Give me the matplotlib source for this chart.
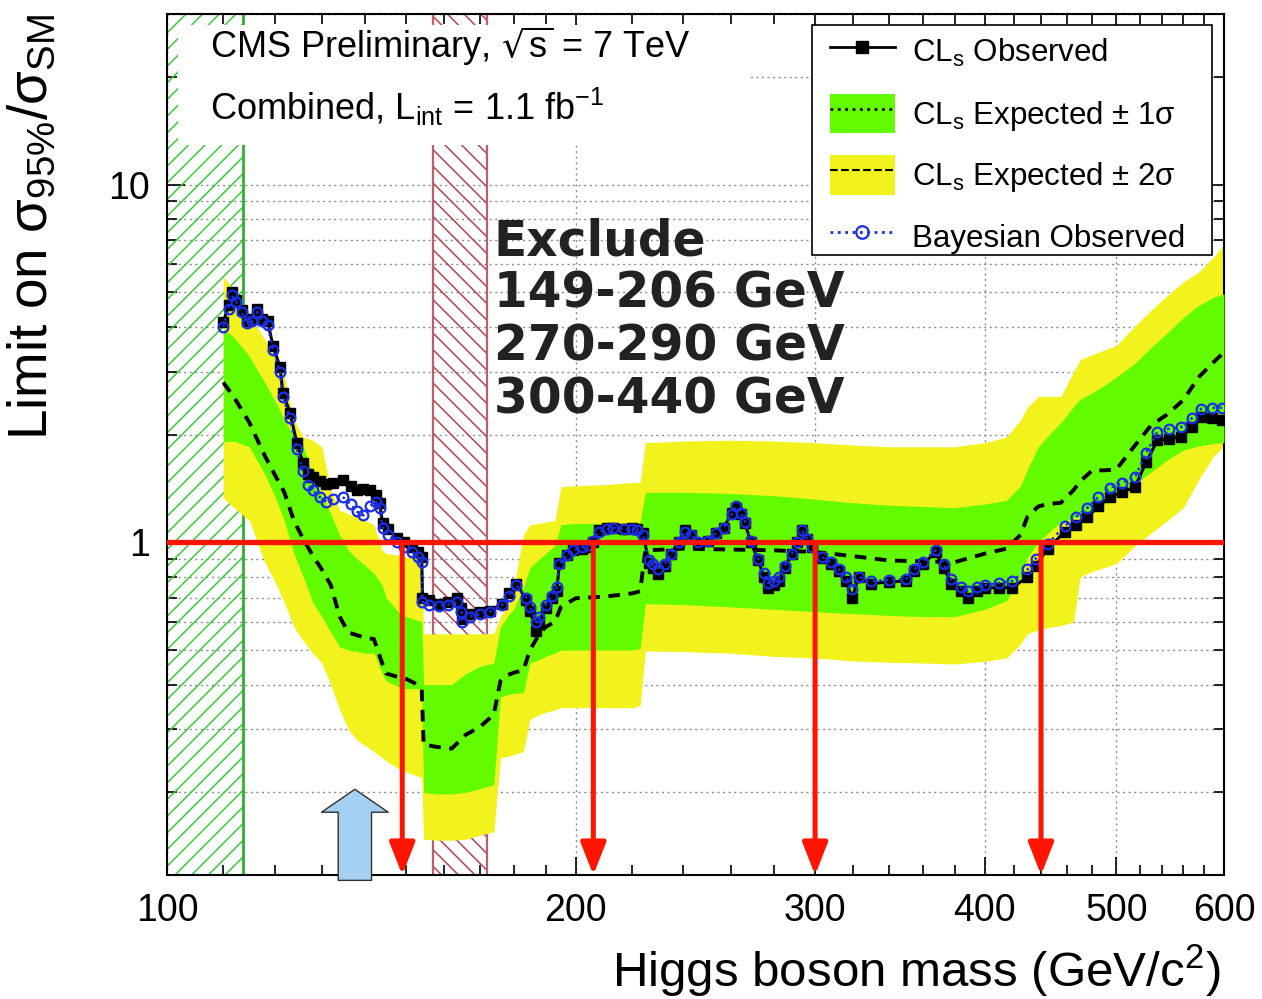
import matplotlib
matplotlib.use("Agg")
import matplotlib.pyplot as plt
from matplotlib.patches import Patch, Rectangle
from matplotlib.lines import Line2D
from matplotlib.ticker import FixedLocator, FixedFormatter, NullFormatter

plt.rcParams['font.family'] = ['Liberation Sans', 'DejaVu Sans']
plt.rcParams['hatch.linewidth'] = 1.1

# expected limit and +-1/2 sigma bands
mass_band = [110, 112, 115, 118, 120, 122, 124, 126, 128, 130,
             132, 134, 136, 138, 140, 142, 144, 145, 148, 150,
             152, 154, 154.5, 158, 162, 166, 170, 174, 176, 178,
             180, 183, 185, 188, 190, 193, 195, 200, 210, 220,
             223, 225, 240, 260, 280, 300, 320, 340, 360, 380,
             400, 415, 425, 430, 438, 445, 455, 465, 470, 480,
             490, 500, 515, 530, 545, 560, 575, 590, 600]
exp_limit = [2.80, 2.55, 2.16, 1.75, 1.55, 1.38, 1.15, 1.02, 0.92, 0.84,
             0.76, 0.62, 0.56, 0.55, 0.54, 0.537, 0.46, 0.43, 0.42, 0.415,
             0.405, 0.39, 0.272, 0.268, 0.265, 0.29, 0.305, 0.33, 0.41, 0.425,
             0.432, 0.44, 0.50, 0.555, 0.58, 0.60, 0.66, 0.698, 0.705, 0.72,
             0.73, 0.95, 0.96, 0.955, 0.95, 0.94, 0.915, 0.89, 0.885, 0.88,
             0.93, 0.96, 1.05, 1.18, 1.26, 1.28, 1.29, 1.40, 1.48, 1.59,
             1.59, 1.60, 1.85, 2.12, 2.28, 2.50, 2.90, 3.20, 3.40]
one_sig_hi = [3.94, 3.75, 3.31, 2.80, 2.50, 2.20, 1.98, 1.85, 1.55, 1.35,
              1.20, 1.05, 0.95, 0.90, 0.86, 0.82, 0.76, 0.70, 0.64, 0.62,
              0.61, 0.60, 0.40, 0.40, 0.40, 0.43, 0.45, 0.46, 0.58, 0.62,
              0.65, 0.75, 0.85, 0.90, 0.93, 0.98, 1.12, 1.13, 1.13, 1.13,
              1.14, 1.38, 1.38, 1.37, 1.35, 1.32, 1.29, 1.27, 1.26, 1.25,
              1.28, 1.31, 1.44, 1.60, 1.85, 1.98, 2.16, 2.40, 2.51, 2.62,
              2.75, 2.90, 3.15, 3.50, 3.85, 4.25, 4.60, 4.85, 4.95]
one_sig_lo = [1.91, 1.92, 1.85, 1.55, 1.35, 1.15, 0.93, 0.80, 0.68, 0.62,
              0.56, 0.51, 0.50, 0.495, 0.49, 0.49, 0.43, 0.41, 0.395, 0.39,
              0.39, 0.39, 0.20, 0.198, 0.198, 0.20, 0.205, 0.21, 0.37, 0.375,
              0.378, 0.38, 0.46, 0.47, 0.48, 0.49, 0.50, 0.50, 0.50, 0.50,
              0.505, 0.674, 0.67, 0.66, 0.65, 0.64, 0.632, 0.625, 0.62, 0.62,
              0.65, 0.687, 0.80, 0.907, 1.00, 1.06, 1.14, 1.17, 1.18, 1.22,
              1.28, 1.34, 1.45, 1.57, 1.70, 1.81, 1.86, 1.89, 1.90]
two_sig_hi = [5.52, 5.10, 4.30, 3.70, 3.30, 2.90, 2.20, 1.97, 1.93, 1.85,
              1.40, 1.23, 1.20, 1.18, 1.15, 1.12, 0.95, 0.93, 0.92, 0.91,
              0.91, 0.90, 0.555, 0.555, 0.555, 0.555, 0.555, 0.556, 0.62, 0.66,
              0.75, 1.05, 1.12, 1.13, 1.14, 1.15, 1.43, 1.44, 1.45, 1.47,
              1.47, 1.90, 1.92, 1.93, 1.92, 1.90, 1.87, 1.85, 1.85, 1.85,
              1.90, 1.97, 2.20, 2.39, 2.56, 2.56, 2.56, 3.00, 3.24, 3.35,
              3.45, 3.55, 4.00, 4.45, 4.90, 5.35, 5.70, 6.30, 6.80]
two_sig_lo = [1.33, 1.25, 1.15, 0.88, 0.78, 0.68, 0.58, 0.53, 0.49, 0.46,
              0.40, 0.34, 0.30, 0.28, 0.27, 0.26, 0.25, 0.245, 0.233, 0.228,
              0.224, 0.22, 0.148, 0.147, 0.147, 0.148, 0.152, 0.155, 0.25, 0.252,
              0.255, 0.26, 0.32, 0.33, 0.335, 0.34, 0.345, 0.345, 0.345, 0.345,
              0.35, 0.497, 0.495, 0.49, 0.48, 0.475, 0.466, 0.462, 0.46, 0.457,
              0.465, 0.475, 0.52, 0.555, 0.57, 0.577, 0.585, 0.60, 0.80, 0.83,
              0.85, 0.873, 0.97, 1.06, 1.15, 1.25, 1.50, 1.75, 1.85]

# observed limits (CLs and Bayesian)
obs_mass = [110, 111, 111.6, 112.5, 113.5, 114.5, 115.5, 116.5, 117.5, 118.6,
            119.7, 121.1, 121.7, 123.2, 124.6, 125.9, 127, 128, 129.5, 131,
            132.5, 134.7, 136.5, 137.9, 139.5, 141, 142.5, 143.4, 144.1, 145.5,
            147.6, 149.5, 151.6, 153, 154, 154.2, 156, 158.7, 161, 163.4,
            164.7, 165, 167, 170, 172.8, 176.6, 178.5, 180.8, 183.9, 185,
            187, 188, 190, 192, 193.6, 194.5, 197, 199, 202, 204,
            206, 208, 211, 213, 217, 220, 222, 224, 226.5, 228,
            230, 232.5, 235, 238, 240.5, 243, 246, 250, 253.5, 257,
            260.5, 262.5, 264.5, 266.5, 269, 272.5, 275, 277, 280, 282,
            285, 288.5, 291, 293.5, 296, 298.5, 303.6, 308, 312.4, 316,
            319.5, 323, 330, 340, 350, 355, 360, 368, 373, 378,
            384, 389, 395, 400, 410, 419, 430, 436, 445, 458,
            467, 476, 485, 494.5, 505, 516, 526, 536, 547, 558,
            568, 577, 588, 598]
obs_limit = [4.12, 4.60, 5.00, 4.75, 4.45, 4.15, 4.20, 4.49, 4.20, 4.15,
             3.53, 3.10, 2.62, 2.30, 1.90, 1.67, 1.55, 1.52, 1.48, 1.46,
             1.47, 1.49, 1.44, 1.40, 1.41, 1.40, 1.36, 1.29, 1.13, 1.09,
             1.03, 1.00, 0.968, 0.94, 0.91, 0.70, 0.69, 0.674, 0.68, 0.70,
             0.657, 0.61, 0.632, 0.64, 0.644, 0.674, 0.72, 0.767, 0.69, 0.644,
             0.566, 0.60, 0.657, 0.70, 0.733, 0.873, 0.92, 0.95, 0.96, 0.97,
             1.00, 1.08, 1.10, 1.10, 1.09, 1.10, 1.09, 1.06, 0.873, 0.85,
             0.818, 0.86, 0.93, 1.00, 1.08, 1.05, 0.99, 1.01, 1.06, 1.10,
             1.21, 1.25, 1.20, 1.13, 1.00, 0.89, 0.80, 0.747, 0.76, 0.782,
             0.85, 0.93, 1.00, 1.08, 1.02, 0.97, 0.907, 0.87, 0.834, 0.78,
             0.70, 0.80, 0.767, 0.775, 0.78, 0.834, 0.87, 0.937, 0.85, 0.767,
             0.73, 0.70, 0.73, 0.747, 0.747, 0.747, 0.80, 0.86, 0.96, 1.07,
             1.12, 1.18, 1.26, 1.34, 1.38, 1.43, 1.68, 1.93, 1.95, 1.97,
             2.10, 2.24, 2.22, 2.20]
bayes_limit = [4.00, 4.50, 4.90, 4.70, 4.40, 4.10, 4.15, 4.40, 4.15, 4.05,
               3.45, 3.00, 2.55, 2.22, 1.82, 1.58, 1.45, 1.40, 1.34, 1.30,
               1.32, 1.34, 1.28, 1.22, 1.19, 1.26, 1.30, 1.25, 1.10, 1.05,
               1.00, 0.97, 0.94, 0.91, 0.88, 0.68, 0.67, 0.665, 0.67, 0.68,
               0.64, 0.60, 0.62, 0.63, 0.64, 0.67, 0.71, 0.76, 0.70, 0.66,
               0.60, 0.62, 0.67, 0.71, 0.75, 0.87, 0.92, 0.95, 0.97, 0.98,
               1.01, 1.07, 1.09, 1.10, 1.09, 1.09, 1.08, 1.05, 0.89, 0.87,
               0.84, 0.87, 0.93, 1.00, 1.07, 1.05, 1.00, 1.01, 1.06, 1.10,
               1.20, 1.26, 1.21, 1.14, 1.01, 0.90, 0.82, 0.77, 0.78, 0.80,
               0.86, 0.93, 1.00, 1.08, 1.02, 0.97, 0.91, 0.88, 0.84, 0.80,
               0.74, 0.80, 0.78, 0.785, 0.79, 0.84, 0.88, 0.95, 0.87, 0.79,
               0.75, 0.73, 0.75, 0.76, 0.77, 0.78, 0.84, 0.90, 0.99, 1.11,
               1.18, 1.25, 1.34, 1.42, 1.47, 1.52, 1.78, 2.04, 2.08, 2.10,
               2.22, 2.36, 2.38, 2.38]

lep_range = (100, 113.8)       # green hatched
tev_range = (157, 172)         # red hatched
excl_edges = [149, 206, 300, 440]
hint_mass = 137.5
excl_lines = ["Exclude", "149-206 GeV", "270-290 GeV", "300-440 GeV"]

x_major = [100, 200, 300, 400, 500, 600]
x_minor = [110, 120, 130, 140, 150, 160, 170, 180, 190,
           220, 240, 260, 280, 320, 340, 360, 380,
           420, 440, 460, 480, 520, 540, 560, 580]
y_major = [1, 10]
y_minor = [0.2, 0.3, 0.4, 0.5, 0.6, 0.7, 0.8, 0.9,
           2, 3, 4, 5, 6, 7, 8, 9, 20, 30]
ylo, yhi = 0.1175, 30

GREEN = '#62fb00'
YELLOW = '#f2f21c'
BLUE = '#1a2ee6'
RED = '#ff1400'

fig = plt.figure(figsize=(12.62, 9.99), dpi=100)
ax = fig.add_axes([167 / 1262, 124 / 999, 1057 / 1262, 861 / 999])
ax.set_xscale('log')
ax.set_yscale('log')
ax.set_xlim(100, 600)
ax.set_ylim(ylo, yhi)

grid_kw = dict(color='#8c8c8c', linestyle=(0, (1.5, 2.5)), linewidth=1.0)
ax.grid(True, axis='x', which='major', **grid_kw)
ax.grid(True, axis='y', which='both', **grid_kw)
ax.set_axisbelow(True)

# excluded regions from earlier experiments
ax.axvspan(*lep_range, facecolor='none', edgecolor='#3cc83c', hatch='//',
           linewidth=0, zorder=1)
ax.axvline(lep_range[1], color='#30b030', lw=2, zorder=1)
ax.axvspan(*tev_range, facecolor='none', edgecolor='#b04458', hatch='\\\\',
           linewidth=0, zorder=1)
for m in tev_range:
    ax.axvline(m, color='#b86070', lw=1.6, zorder=1)

# white pad behind the header text
ax.add_patch(Rectangle((0.0105, 0.848), 0.54, 0.139, transform=ax.transAxes,
                       facecolor='white', edgecolor='none', zorder=1.5))

ax.fill_between(mass_band, two_sig_lo, two_sig_hi, color=YELLOW, lw=0, zorder=2)
ax.fill_between(mass_band, one_sig_lo, one_sig_hi, color=GREEN, lw=0, zorder=3)
ax.plot(mass_band, exp_limit, color='black', lw=2.8,
        linestyle=(0, (3, 2.2)), zorder=4)
ax.plot(obs_mass, obs_limit, color='black', lw=2.2, marker='s', ms=7.5,
        zorder=5)
ax.plot(obs_mass, bayes_limit, color=BLUE, lw=1.8, linestyle=':',
        marker='o', ms=7, mfc='none', mec=BLUE, mew=1.6, zorder=6)

ax.axhline(1.0, color=RED, lw=3.8, zorder=7)
for m in excl_edges:
    ax.annotate('', xy=(m, ylo), xytext=(m, 1.0),
                arrowprops=dict(arrowstyle='-|>,head_length=1.4,head_width=0.55',
                                color=RED, lw=3.6, mutation_scale=14,
                                shrinkA=0, shrinkB=0), zorder=8)
ax.annotate('', xy=(hint_mass, 0.204), xytext=(hint_mass, 0.1135),
            arrowprops=dict(arrowstyle='simple,head_length=1.65,head_width=4.8,'
                                       'tail_width=2.4',
                            fc='#a6d0f2', ec='#303030', lw=1,
                            mutation_scale=10, shrinkA=0, shrinkB=0),
            annotation_clip=False, zorder=8)

# header text
ax.text(0.0407, 0.949, r'CMS Preliminary, $\mathregular{\sqrt{s}}$ = 7 TeV',
        transform=ax.transAxes, fontsize=26, va='baseline', zorder=9)
ax.text(0.0407, 0.877, r'Combined, L$\mathregular{_{int}}$ = 1.1 fb$\mathregular{^{-1}}$',
        transform=ax.transAxes, fontsize=26, va='baseline', zorder=9)
for i, line in enumerate(excl_lines):
    ax.text(0.309, 0.720 - 0.0612 * i, line, transform=ax.transAxes,
            fontsize=35, fontweight='bold', family='DejaVu Sans',
            color='#222222', va='baseline', zorder=9)

# axes styling
ax.xaxis.set_major_locator(FixedLocator(x_major))
ax.xaxis.set_major_formatter(FixedFormatter([str(v) for v in x_major]))
ax.xaxis.set_minor_locator(FixedLocator(x_minor))
ax.xaxis.set_minor_formatter(NullFormatter())
ax.yaxis.set_major_locator(FixedLocator(y_major))
ax.yaxis.set_major_formatter(FixedFormatter(['1', '10']))
ax.yaxis.set_minor_locator(FixedLocator(y_minor))
ax.yaxis.set_minor_formatter(NullFormatter())
ax.tick_params(which='both', direction='in', top=True, right=True, width=1.2)
ax.tick_params(which='major', length=13, labelsize=27)
ax.tick_params(axis='x', which='major', pad=13)
ax.tick_params(axis='y', which='major', pad=12)
ax.tick_params(which='minor', length=7)
for s in ax.spines.values():
    s.set_linewidth(1.5)

ax.set_xlabel(r'Higgs boson mass (GeV/c$\mathregular{^2}$)', fontsize=35.5,
              loc='right')
ax.xaxis.set_label_coords(0.997, -0.078)
ax.set_ylabel(r'Limit on $\mathregular{\sigma_{95\%}/\sigma_{SM}}$',
              fontsize=39.5, loc='top')
ax.yaxis.set_label_coords(-0.102, 1.0)

# legend: frame drawn separately so its size matches the original box
ax.add_patch(Rectangle((0.610, 0.720), 0.379, 0.267, transform=ax.transAxes,
                       facecolor='white', edgecolor='black', lw=1.2,
                       zorder=10))
handles = [
    Line2D([], [], color='black', lw=2, marker='s', ms=8),
    (Patch(facecolor=GREEN, edgecolor='none'),
     Line2D([], [], color='black', lw=2, linestyle=':')),
    (Patch(facecolor=YELLOW, edgecolor='none'),
     Line2D([], [], color='black', lw=1.5, linestyle='--')),
    Line2D([], [], color=BLUE, lw=2, linestyle=':', marker='o', ms=9,
           mfc='none', mec=BLUE, mew=1.6),
]
labels = [r'CL$\mathregular{_s}$ Observed',
          r'CL$\mathregular{_s}$ Expected ± 1σ',
          r'CL$\mathregular{_s}$ Expected ± 2σ',
          'Bayesian Observed']
leg = ax.legend(handles, labels, loc='upper left',
                bbox_to_anchor=(0.627, 0.979), borderaxespad=0,
                fontsize=22.5, numpoints=1, frameon=False,
                handlelength=2.08, handleheight=1.55, handletextpad=0.55,
                labelspacing=0.72, borderpad=0)
leg.set_zorder(11)

fig.savefig('out.png', dpi=100)
